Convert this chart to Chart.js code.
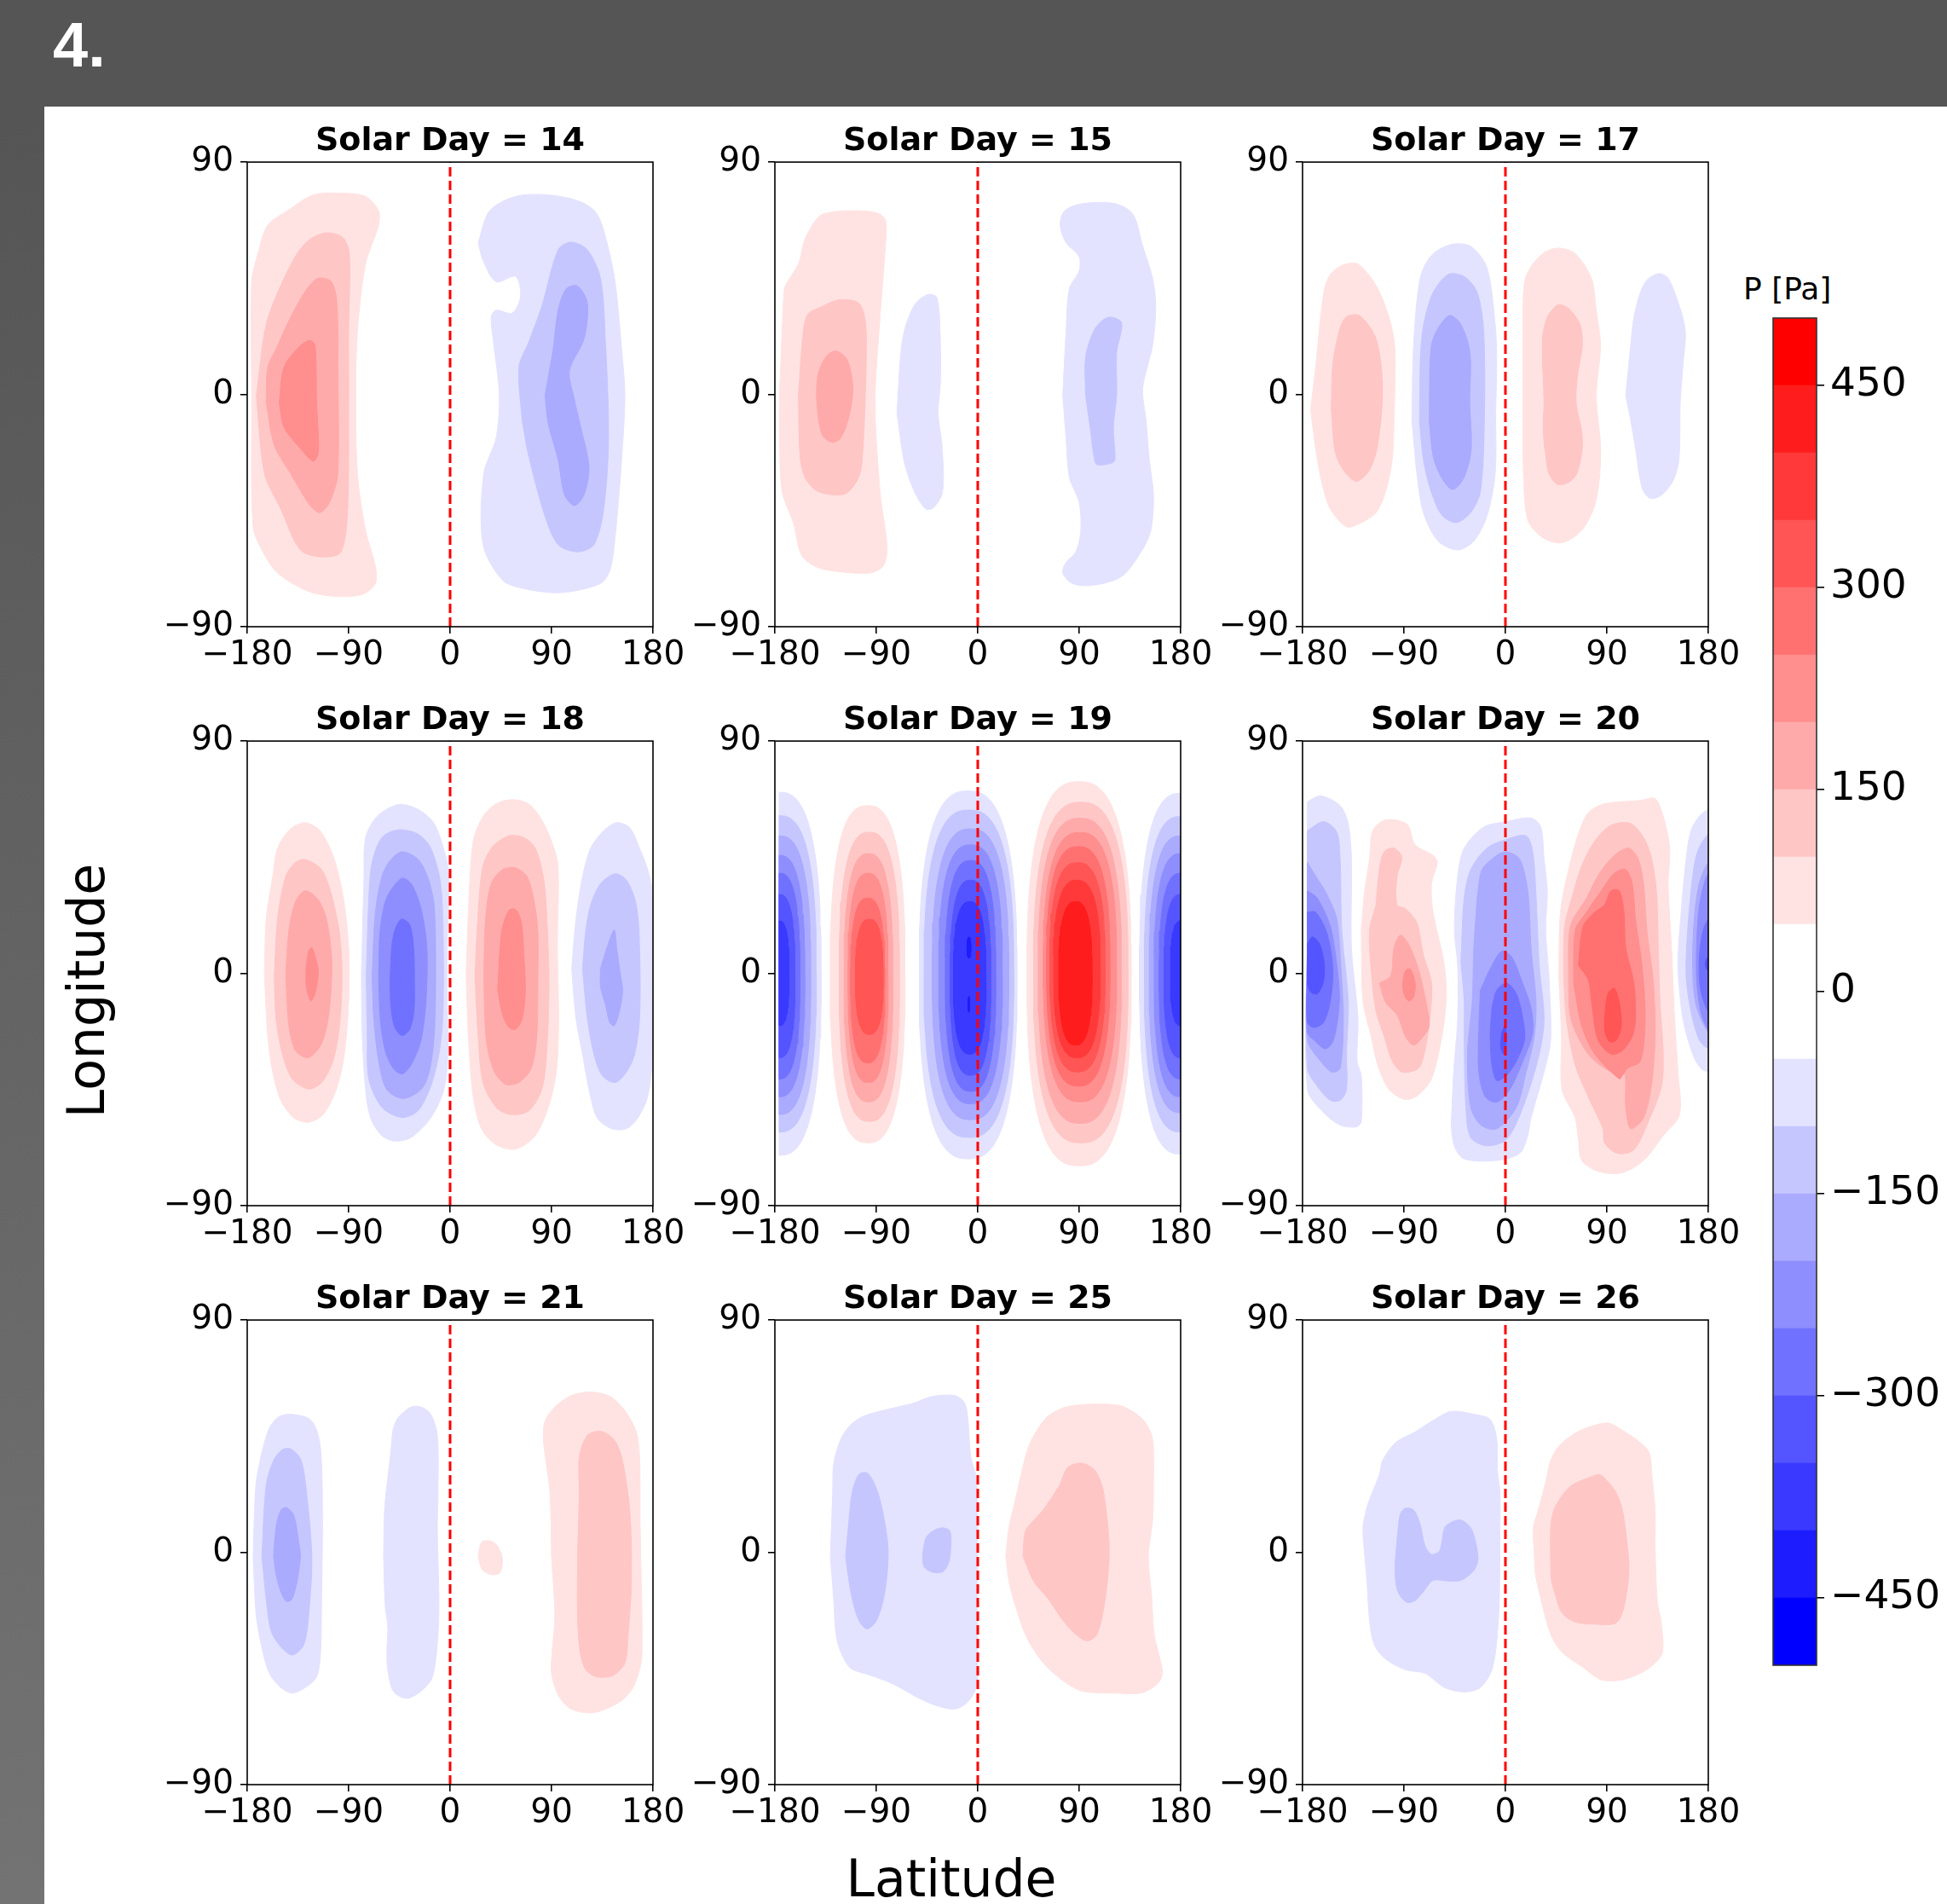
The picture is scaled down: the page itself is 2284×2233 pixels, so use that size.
<!DOCTYPE html>
<html>
<head>
<meta charset="utf-8">
<script src="https://cdn.jsdelivr.net/npm/chart.js@4.4.1/dist/chart.umd.min.js"></script>
<style>
  body { margin: 0; width: 2284px; height: 2233px; background: #fff; position: relative; overflow: hidden; font-family: 'DejaVu Sans'; }
  #header { position: absolute; left: 0; top: 0; width: 2284px; height: 125px; background: #555555; }
  #header span { position: absolute; left: 62px; top: 16px; color: #fff; font: bold 74px/74px 'Liberation Sans'; }
  #strip { position: absolute; left: 0; top: 125px; width: 52px; height: 2108px; background: linear-gradient(#555555, #737373); }
  .lbl { position: absolute; color: #000; font: 60px/60px 'DejaVu Sans'; white-space: nowrap; }
  #cbtitle { position: absolute; left: 2045px; top: 318px; font: 36px/42px 'DejaVu Sans'; color: #000; white-space: nowrap; }
  canvas { position: absolute; }
</style>
</head>
<body>
<div id="header"><span>4.</span></div>
<div id="strip"></div>
<div class="lbl" id="ylab" style="left:101px;top:1162px;transform:translate(-50%,-50%) rotate(-90deg);">Longitude</div>
<div class="lbl" id="xlab" style="left:1116px;top:2173px;transform:translateX(-50%);">Latitude</div>
<div id="cbtitle">P [Pa]</div>
<script>
// axis ticks
const latTicks = [-180, -90, 0, 90, 180];
const lonTicks = [-90, 0, 90];
const solarDays = [14, 15, 17, 18, 19, 20, 21, 25, 26];
const cbarLevels = [-500, -450, -400, -350, -300, -250, -200, -150, -100, -50, 0, 50, 100, 150, 200, 250, 300, 350, 400, 450, 500];
const cbarTicks = [-450, -300, -150, 0, 150, 300, 450];
const latCoverage = [-176, 180];

// contour regions: [band, [[lat, lon], ...]]
// band = number of 50 Pa steps (positive red, negative blue)
const day14 = [
  [1, [[-176,0],[-176,44],[-170.5,54.6],[-161.8,65.6],[-144.4,71.1],[-121.3,77.3],[-98.1,78],[-75,76.7],[-63.4,71.1],[-63.4,65.6],[-75,50.5],[-82.2,24.4],[-83.6,0],[-82.2,-30.7],[-75,-52.7],[-66.3,-66.5],[-66.3,-73.3],[-77.9,-77.5],[-103.9,-78.2],[-127,-76.1],[-153.1,-69.2],[-166.1,-61],[-174.8,-51.3]]],
  [2, [[-171.9,-0.4],[-163.2,27.1],[-150.2,42.2],[-135.7,54.6],[-124.2,60.1],[-109.7,62.6],[-95.2,60.8],[-89.4,54.6],[-90,24.4],[-90,-3.2],[-90.9,-44.4],[-96.7,-61],[-112.6,-63],[-132.8,-60.3],[-150.2,-44.4],[-164.7,-30.7]]],
  [3, [[-163.2,-3.2],[-161.8,10.6],[-154.5,17.5],[-141.5,29.9],[-127,40.9],[-116.9,45],[-105.3,43.6],[-100.4,35.4],[-99.6,10.6],[-99.6,-30.7],[-106.8,-41.7],[-115.5,-45.8],[-124.2,-43.1],[-141.5,-30.7],[-156,-19.7]]],
  [4, [[-151.6,-3.2],[-147.3,10.6],[-132.8,18.9],[-124.2,20.9],[-119.8,18.9],[-118.4,-3.2],[-116.9,-22.4],[-121.3,-25.9],[-132.8,-21],[-147.3,-12.8]]],
  [-1, [[24.9,58.8],[35,71.1],[58.1,76.7],[87.1,77.3],[116,74.6],[130.5,69.8],[139.2,58.8],[146.4,43.6],[152.2,17.5],[155.1,-0.4],[152.2,-25.2],[146.4,-55.5],[142.1,-67.8],[133.4,-73.3],[98.6,-76.8],[66.8,-75.4],[46.6,-72],[29.2,-58.2],[29.8,-30.7],[40.8,-16.9],[43.7,-0.4],[39.3,17.5],[36.4,29.9],[40.8,32.6],[55.2,31.5],[62.5,38.1],[58.1,45.7],[40.8,43.6],[29.2,51.9]]],
  [-2, [[63.9,-10],[61,10.6],[69.7,20.2],[81.3,34],[95.8,56],[107.3,59],[121.8,56],[133.4,45],[137.7,21.6],[140.6,-16.9],[136.3,-44.4],[127.6,-58.2],[113.1,-61],[95.8,-58.2],[84.2,-47.2],[69.7,-23.8]]],
  [-3, [[84.2,-0.4],[91.4,17.5],[95.8,32.6],[103,40.9],[113.1,42],[121.8,35.4],[118.9,21.6],[105.9,9.2],[110.2,-1.8],[116,-12.8],[123.2,-27.9],[118.9,-38.9],[110.2,-43.1],[101.5,-38.9],[95.8,-25.2],[87.1,-11.4]]]
];

const day15 = [
  [1, [[-175.9,-0.4],[-172.2,38.1],[-170.7,42.2],[-159.1,50.5],[-153.4,60.1],[-140.3,69.1],[-124.4,70.9],[-101.2,71.1],[-86.7,69.8],[-81.5,67],[-82.4,54.6],[-86.7,29.9],[-91.1,-3.2],[-86.7,-37.6],[-80.4,-59.6],[-83.9,-66.5],[-95.4,-69.2],[-118.6,-68.9],[-141.8,-67.1],[-156.3,-62.3],[-163.5,-49.9],[-173.6,-37.6],[-175.9,-17]]],
  [2, [[-159.1,-0.4],[-154.8,24.4],[-150.5,31.2],[-138.9,33.9],[-122.9,36.7],[-105.6,35.4],[-99.8,28.5],[-98.9,13.4],[-102.7,-26.6],[-107.2,-33.5],[-118.6,-38.7],[-141.8,-37.6],[-153.4,-32.1],[-157.7,-23.8]]],
  [3, [[-143.2,-0.4],[-141.8,7.8],[-134.5,14.7],[-125.8,16.8],[-115.7,13.4],[-110.8,2.4],[-114.3,-8.7],[-121.5,-16.9],[-128.7,-18.6],[-137.4,-16.2],[-141.2,-10]]],
  [-1, [[-71.7,-7.3],[-68,17.5],[-63.6,27.1],[-54.9,35.4],[-43.3,38.8],[-36.1,37.4],[-33.2,21.6],[-33.2,3.7],[-35.2,-7.3],[-31.7,-19.7],[-31.1,-37.6],[-39,-43.8],[-46.2,-44.4],[-56.3,-37.6],[-65,-26.6]]],
  [-1, [[75.4,-0.4],[78.3,24.4],[81.2,40.9],[89.9,47.8],[89.9,53.3],[78.3,58.8],[73.1,65.6],[76.9,71.1],[92.8,73.9],[121.8,73.9],[137.7,69.8],[146.4,57.4],[155.1,45],[158,34],[155.1,18.9],[146.4,2.4],[149.3,-10],[152.2,-25.2],[155.9,-39],[153.6,-52.7],[144.9,-61],[127.6,-70.6],[101.5,-74],[84.1,-73.3],[75.4,-69.2],[78.3,-65.1],[87,-61],[91.4,-52.7],[89.9,-41.7],[81.2,-32.1],[78.3,-16.9]]],
  [-2, [[95.7,-0.4],[95.7,14.7],[104.4,25.7],[116,29.9],[127.6,27.8],[123.2,16.2],[123.2,-0.4],[120.3,-12.8],[121.8,-25.2],[118.9,-26.6],[105.8,-27.2],[103,-23.8],[100.1,-14.1]]]
];

const day17 = [
  [1, [[-172.8,-5.9],[-168.4,10.6],[-161.2,39.5],[-155.4,46.4],[-143.8,50.2],[-130.8,50.5],[-114.8,42.2],[-103.3,29.9],[-98,17.5],[-98.9,-10],[-100.4,-25.2],[-106.2,-37.6],[-114.8,-45.8],[-129.3,-50],[-140.9,-51.3],[-155.4,-44.4],[-162.6,-34.8],[-168.4,-21]]],
  [2, [[-154.5,-5.9],[-153.1,12],[-146.7,25.7],[-140.9,30.1],[-129.3,30.5],[-114.8,21.6],[-109,2.3],[-113.4,-19.7],[-120.6,-29.3],[-132.2,-33.7],[-143.8,-29.3],[-151,-22.4]]],
  [-1, [[-83,-10],[-81.5,18.9],[-75.7,45],[-65.6,53.9],[-48.2,58.1],[-30.9,57.4],[-16.4,49.1],[-9.1,27.1],[-7.7,13.4],[-8.6,-7.3],[-9.1,-30.7],[-16.4,-47.2],[-28,-56.8],[-42.4,-60.3],[-59.8,-56.8],[-72.8,-45.8],[-78.6,-30.7]]],
  [-2, [[-76.3,-10],[-74.3,21.6],[-65.6,38.1],[-51.1,46.4],[-36.7,45.7],[-25.1,39.5],[-19.3,24.4],[-18.7,-10],[-22.2,-37.6],[-30.9,-45.8],[-43.9,-49.7],[-56.9,-46.5],[-67,-36.2],[-72.8,-25.2]]],
  [-3, [[-67.6,-10],[-66.2,17.5],[-61.3,24.4],[-49.7,30.6],[-39.5,27.1],[-31.4,16.1],[-31.7,-3.2],[-30.3,-21],[-36.6,-32.1],[-46.8,-36.9],[-56.9,-32.1],[-64.2,-23.8]]],
  [1, [[15.5,-10],[15.5,21.6],[16.9,43.6],[24.2,50.5],[35.8,55.3],[47.3,56.7],[61.8,54.6],[76.3,45],[80.6,32.6],[84.4,18.9],[80.6,-0.4],[84.4,-19.7],[83.5,-32.1],[79.2,-43.1],[67.6,-52.7],[50.2,-57.5],[32.9,-55.5],[19.8,-48.6],[16,-30.7]]],
  [2, [[34.3,-3.2],[32.9,21.6],[37.2,29.9],[46.8,34.7],[56,33.3],[66.2,27.1],[68.2,18.9],[64.1,7.8],[62.7,-3.2],[67.6,-14.1],[68.2,-21],[63.3,-30.7],[56,-34.1],[45.9,-34.8],[38.6,-30.7],[35.8,-23.8],[33.5,-14.1]]],
  [-1, [[106.7,-0.4],[111.1,18.9],[114,29.9],[119.7,39.5],[125.5,44.3],[135.7,46.8],[144.4,45],[154.5,34],[159.7,24.4],[157.4,10.6],[155.1,-3.2],[154,-25.2],[148.7,-33.5],[138.6,-39],[128.4,-40.3],[121.2,-36.2],[115.4,-21],[111.1,-10]]]
];

const day18 = [
  [1, [[-164.7,-1],[-163.2,21],[-157.4,37.5],[-153.1,48.5],[-141.5,56],[-128.5,58.4],[-115.5,55.3],[-103.9,45.7],[-95.2,30.6],[-90,10],[-90,-10.7],[-93.8,-31.3],[-101,-45],[-112.6,-54.7],[-125.6,-57.7],[-138.6,-56],[-150.2,-49.2],[-157.4,-38.2],[-161.8,-24.4]]],
  [2, [[-156,-1],[-153.1,21],[-145.9,37.5],[-137.2,43],[-128.5,44.1],[-114,40.2],[-105.3,30.6],[-98.1,15.5],[-95.8,-1],[-98.1,-20.3],[-103.9,-34],[-114,-42.3],[-125.6,-44.8],[-140.1,-40.9],[-148.8,-31.3],[-154.5,-17.5]]],
  [3, [[-145.9,-1],[-143,16.8],[-137.2,27.8],[-128.5,32],[-116.9,28.5],[-109.7,21],[-105.3,7.2],[-105.3,-3.8],[-108.2,-17.5],[-114,-27.2],[-125.6,-32.7],[-137.2,-29.9],[-143,-20.3]]],
  [4, [[-127.9,1.7],[-125.6,8.6],[-122.7,10],[-118.4,4.4],[-116.9,0.3],[-119.8,-7.9],[-123.6,-10.7],[-127.6,-5.2]]],
  [-1, [[-78.7,-1],[-76.4,37.5],[-75,52.6],[-64.8,60.8],[-46,65.4],[-28.7,63.6],[-14.2,58.1],[-4.1,45.7],[-1.2,37.5],[-2.5,10],[-2.5,-10.7],[-2,-31.3],[-5.5,-45],[-17.1,-56],[-34.5,-63.6],[-48.9,-65],[-60.5,-62.9],[-70.6,-56],[-75,-45],[-77.9,-24.4]]],
  [-2, [[-74.4,-1],[-72.1,29.2],[-69.2,43],[-60.5,52.6],[-46,55.6],[-28.7,54],[-17.1,48.5],[-8.4,34.7],[-6,10],[-6.5,-17.5],[-9.9,-31.3],[-17.1,-43.7],[-28.7,-53.3],[-43.1,-55.8],[-60.5,-51.9],[-72.1,-40.9],[-73.5,-24.4]]],
  [-3, [[-69.2,-1],[-66.3,23.7],[-60.5,37.5],[-53.3,43.7],[-42.6,47.1],[-28.7,44.3],[-20,37.5],[-14.2,26.5],[-12.8,-1],[-14.2,-24.4],[-18.5,-38.2],[-25.8,-45],[-41.7,-48.5],[-56.2,-45],[-63.4,-34],[-67.7,-17.5]]],
  [-4, [[-63.4,-1],[-62,16.8],[-56.2,29.2],[-43.1,36.8],[-34.5,34.7],[-25.8,25.1],[-20.6,10],[-21.4,-10.7],[-25.8,-25.8],[-34.5,-35.4],[-42.6,-38.9],[-50.4,-36.8],[-57.6,-29.9],[-62,-17.5]]],
  [-5, [[-53.3,-3.8],[-51.8,10],[-49,16.8],[-43.1,21],[-35.9,18.9],[-32.4,10],[-31.6,-3.8],[-32.1,-14.8],[-35.9,-21.7],[-42.6,-24.1],[-49,-21],[-52.4,-13.4]]],
  [1, [[14.2,-1],[16.2,23.7],[20.5,51.2],[29.2,60.8],[40.8,65.7],[55.2,67.3],[69.7,65.7],[81.3,59.5],[90,51.2],[95.8,41.6],[95.2,10],[96.3,-17.5],[94.3,-38.2],[87.1,-51.9],[75.5,-62.9],[58.1,-68.1],[40.8,-66.4],[27.8,-60.2],[20.5,-47.8],[16.2,-24.4]]],
  [2, [[22,-1],[24.9,23.7],[29.2,41.6],[37.9,49.2],[52.3,53.3],[65.4,52.6],[75.5,48.5],[82.7,37.5],[85.6,23.7],[87.7,-3.8],[85.6,-31.3],[81.3,-45],[69.7,-53.3],[53.8,-54.7],[40.8,-51.9],[29.2,-42.3],[24.9,-24.4]]],
  [3, [[29.8,-1],[31.5,21],[36.4,34.7],[46.6,40.2],[58.1,40.9],[68.3,37.5],[74,29.2],[77.8,16.8],[77.8,-3.8],[76.9,-24.4],[72,-36.8],[61,-42.3],[49.5,-43],[39.3,-38.2],[32.1,-25.8]]],
  [4, [[42.2,-6.5],[44.3,10],[46.6,18.2],[52.3,24.4],[58.1,24.8],[63.3,19.6],[65.4,7.2],[66.8,-6.5],[64,-17.5],[58.1,-21.7],[52.3,-21],[46.6,-16.2]]],
  [-1, [[107.9,1.7],[111.7,21],[117.5,37.5],[124.7,48.5],[136.3,55.3],[147.8,58.4],[159.4,56.4],[168.1,48.5],[175.3,40.2],[179.1,32],[179.1,-34],[175.3,-47.8],[166.6,-56],[156.5,-60.2],[143.5,-60.2],[130.5,-56],[123.2,-45],[117.5,-31.3],[111.7,-17.5]]],
  [-2, [[117.5,1.7],[120.4,16.8],[124.7,26.5],[133.4,34.7],[146.4,38.6],[156.5,36.1],[165.2,26.5],[168.1,10],[168.1,-17.5],[163.8,-31.3],[156.5,-38.2],[146.4,-42.3],[134.8,-39.5],[127.6,-31.3],[121.8,-17.5]]],
  [-3, [[133.4,1.7],[139.2,10],[145.6,16.8],[147.8,10],[151.3,-1],[153.1,-6.5],[150.2,-14.8],[145.6,-20.3],[141.6,-19],[137.8,-12],[133.4,-5.2]]]
];

// day 19 contours are near-elliptic: [band, latMin, latMax, lonTop, lonBottom]
const day19Boxes = [
  [-1, -213.1, -138.9, 70.2, -70.5], [-2, -208.8, -143.2, 61.1, -61.5], [-3, -203.9, -148.1, 53.3, -54.7],
  [-4, -198.6, -153.4, 45.7, -47.8], [-5, -194.3, -157.7, 38.8, -40.9], [-6, -190, -162, 30.6, -32.7], [-7, -184.7, -167.3, 20.3, -20.3],
  [1, -130.8, -64.4, 65, -65.7], [2, -123, -69.4, 54.7, -57.4], [3, -118.6, -75.2, 46.4, -49.8],
  [4, -115.1, -79.5, 38.8, -42.3], [5, -112.8, -82.4, 29.2, -34.7], [6, -108.5, -83.9, 21, -23.7],
  [-1, -52, 34.9, 70.7, -71.9], [-2, -47.6, 32, 63.3, -63.6], [-3, -40.4, 27.6, 56, -56.7], [-4, -34.6, 21.9, 49.8, -50.5],
  [-5, -28.8, 16.1, 43.7, -45.7], [-6, -24.5, 11.7, 36.1, -39.5], [-7, -21.6, 7.4, 27.8, -31.3],
  [-8, -9.5, -6, 14, 6], [-8, -8.5, -7, -9, -15],
  [1, 43.6, 136.2, 74.3, -74.6], [2, 49.4, 133.4, 66.3, -65.7], [3, 53.7, 127.6, 60.1, -58.1], [4, 58.1, 123.2, 54.6, -49.8],
  [5, 61, 117.4, 49.1, -43.7], [6, 63.9, 113.1, 42.9, -38.2], [7, 67.3, 108.7, 36.1, -32.7], [8, 72, 101.5, 27.8, -27.8],
  [-1, 143.5, 216.5, 69.8, -70.1], [-2, 147.8, 212.2, 60.8, -61.5], [-3, 152.2, 207.8, 53.3, -54], [-4, 156.5, 203.5, 46.4, -47.8],
  [-5, 160.9, 199.1, 38.8, -40.9], [-6, 165.2, 194.8, 30.6, -32.7], [-7, 171, 189, 20.3, -20.3]
];

const day20 = [
  [-1, [[-175.7,66.5],[-164.1,68.8],[-146.7,65],[-139.5,58.1],[-136.6,44.3],[-136.6,10],[-130.8,-17.5],[-131.6,-34],[-127.9,-39.5],[-127.9,-57.4],[-132.2,-59.5],[-146.7,-58.8],[-161.2,-54],[-175.7,-45],[-175.7,10]]],
  [-2, [[-175.7,55.3],[-161.2,58.8],[-149.6,54.7],[-146.7,44.3],[-145.2,16.8],[-139.5,-10.7],[-141,-31.3],[-141,-45],[-146.7,-49.2],[-155.4,-49.2],[-167,-43.7],[-175.7,-36.8],[-175.7,9]]],
  [-3, [[-175.7,43],[-167,36.8],[-158.3,30.6],[-149.6,21],[-146.1,3.1],[-143.8,-17.5],[-146.7,-36.8],[-153.9,-38.2],[-164.1,-34],[-175.7,-25.8],[-175.7,8]]],
  [-4, [[-175.7,32],[-167,29.2],[-155.4,18.2],[-149.6,3.1],[-147.3,-10.7],[-152.5,-25.8],[-159.7,-29.2],[-169.9,-25.8],[-175.7,-23],[-175.7,4]]],
  [-5, [[-175.7,23.7],[-168.4,23.7],[-158.3,15.5],[-153.1,1.7],[-155.4,-10.7],[-161.2,-18.9],[-169.9,-21],[-175.7,-18.9],[-175.7,2]]],
  [-6, [[-175.7,11.3],[-171.3,14.1],[-164.7,11.3],[-160.6,3.1],[-161.8,-3.8],[-167,-7.9],[-172.8,-7.2],[-175.7,-3.8]]],
  [1, [[-127.9,16.8],[-124.9,32],[-120.6,44.3],[-117.7,55.3],[-106.2,59.5],[-87.3,57.8],[-80.1,49.8],[-64.2,45.7],[-60.4,43],[-65.6,34.7],[-64.2,23.7],[-54.1,3.1],[-52.6,-10.7],[-56.9,-25.8],[-65.6,-40.9],[-77.2,-47.1],[-88.8,-48.9],[-103.3,-45],[-113.4,-35.4],[-119.2,-24.4],[-126.4,-10.7]]],
  [2, [[-114.8,26.5],[-111.9,40.2],[-107.6,47.1],[-98.9,48.5],[-91.9,45],[-96.2,37.5],[-96.2,26.5],[-88.8,25.1],[-78.6,19.6],[-72.8,7.2],[-65.6,-3.8],[-67,-17.5],[-71.4,-29.9],[-77.2,-36.8],[-91.7,-38.2],[-100.4,-34],[-107.6,-24.4],[-114.8,-14.8],[-119.2,1.7],[-120.6,16.8]]],
  [3, [[-111.9,-3.8],[-101.8,-1],[-98.9,10],[-93.1,14.8],[-85.9,11.3],[-77.2,1.7],[-70,-12],[-67.6,-20.3],[-72.8,-24.4],[-81.5,-27.8],[-88.8,-24.4],[-96,-16.2],[-106.2,-11.3]]],
  [4, [[-91.1,-3.8],[-88.8,1],[-84.4,1.7],[-80.1,-3.8],[-81.5,-9.3],[-85.9,-10.7],[-90.2,-7.9]]],
  [-1, [[-48.2,-58.8],[-45.9,-38.2],[-42.4,-17.5],[-42.4,3.1],[-45.3,16.8],[-42.4,37.5],[-36.6,48.5],[-19.3,56.7],[1,58.8],[22.7,60.2],[31.4,56.7],[34.3,44.3],[37.2,32],[35.7,16.8],[38.6,-1],[40.1,-25.8],[34.3,-38.2],[22.7,-56],[19.8,-62.9],[12.6,-69.8],[-7.7,-72.5],[-36.6,-71.9],[-45.3,-67]]],
  [-2, [[-39.5,4.4],[-36.6,29.2],[-30.8,40.2],[-16.4,48.5],[1,51.9],[18.4,53.3],[24.2,47.1],[27.1,30.6],[30,3.1],[34.3,-17.5],[30,-31.3],[15.5,-51.9],[1,-64.3],[-16.4,-66.8],[-30.8,-63.6],[-35.1,-51.9],[-36.6,-25.8],[-36.6,-10.7]]],
  [-3, [[-25.1,29.2],[-20.7,40.2],[-7.7,45.7],[1,47.1],[12.6,44.3],[19.8,32],[22.7,10],[27.1,-10.7],[25.6,-24.4],[18.4,-38.2],[9.7,-51.9],[-7.7,-60.2],[-21.7,-58.8],[-30.8,-51.9],[-33.7,-31.3],[-29.4,-10.7],[-28,10]]],
  [-4, [[-22.2,-6.5],[-13.5,1.7],[-3.3,8.6],[5.3,6.5],[14,-2.4],[22.7,-13.4],[24.2,-23],[15.5,-34],[3.9,-45],[-7.7,-49.9],[-17.8,-47.8],[-23.6,-38.2],[-23.6,-21.7]]],
  [-5, [[-12,-13.4],[-7.7,-6.5],[1,-3.8],[9.7,-7.9],[15.5,-17.5],[16.9,-25.8],[9.7,-34],[1,-39.5],[-7.7,-41.5],[-12,-35.4],[-13.5,-24.4]]],
  [-6, [[-3.3,-23],[-0.4,-20.3],[1,-25.8],[-1.3,-31.3],[-4.2,-28.5]]],
  [1, [[47.3,-1],[48.8,23.7],[56,40.2],[64.7,54],[73.4,62.2],[87.9,65.7],[119.7,67],[132.8,67.7],[140,60.8],[145.8,48.5],[144.4,34.7],[147.3,10],[150.1,-17.5],[153.1,-38.2],[154.5,-54.7],[140,-62.9],[122.6,-72.5],[102.4,-77.4],[82.1,-76.7],[67.6,-72.5],[64.7,-64.3],[61.8,-56],[50.2,-45],[49.7,-24.4]]],
  [2, [[51.7,-1],[52.5,18.2],[58.9,29.2],[67.6,41.6],[79.2,51.2],[93.6,57.4],[111,58.1],[122.6,52.6],[129.8,44.3],[134.2,30.6],[135.6,10],[137.1,-10.7],[140,-31.3],[138.5,-43.7],[126.9,-57.4],[113.9,-68.4],[99.5,-69.8],[87.9,-65.7],[86.5,-60.2],[73.4,-47.8],[61.8,-35.4],[54,-17.5]]],
  [3, [[56,-1],[57.5,18.2],[71.9,29.2],[83.5,38.8],[96.6,45.7],[109.5,48.5],[117.8,44.3],[122.6,34.7],[125.5,16.8],[131.3,-3.8],[132.8,-24.4],[129.9,-42.3],[122.6,-56],[111,-60.2],[106.7,-51.9],[105.2,-38.2],[93.7,-38.2],[73.4,-31.3],[58,-17.5]]],
  [4, [[60.5,-3.8],[62,16.8],[71.9,23.7],[85,32],[96.6,38.8],[106.7,40.2],[112.5,34.7],[115.4,21],[121.1,3.1],[124,-17.5],[119.7,-34],[108.2,-36.8],[103.9,-39.5],[101,-40.9],[79.3,-31.3],[67.6,-20.3]]],
  [5, [[64.7,3.1],[69,18.2],[79.2,23.7],[87.9,26.5],[93.6,32],[101,32],[105.2,23.7],[106.7,10],[114,-3.8],[115.4,-17.5],[112.5,-24.4],[103.9,-29.9],[93.7,-31.3],[82.1,-25.8],[76.3,-10.7],[73.4,-2.4]]],
  [6, [[87.9,-17.5],[90.8,-7.9],[96.6,-5.8],[101.3,-12],[102.8,-20.3],[98.5,-25.8],[92.7,-26.5],[88.4,-23]]],
  [-1, [[186,63.6],[180,63.6],[171.9,60.8],[164.6,55.3],[160.3,44.3],[155.9,23.7],[153.1,3.1],[157.4,-17.5],[166.1,-31.3],[173.3,-36.8],[180,-38.2],[186,-38.2]]],
  [-2, [[186,54],[180,54],[170.4,47.1],[166.1,37.5],[161.7,16.8],[160.3,-1],[164.6,-14.8],[171.9,-25.8],[180,-29.2],[186,-29.2]]],
  [-3, [[186,43],[180,43],[171.9,34.7],[167.5,21],[166.1,1.7],[169,-12],[180,-23],[186,-23]]],
  [-4, [[186,38.8],[180,38.8],[173.3,29.2],[170.4,18.2],[169.5,-1],[173.3,-14.8],[180,-21.7],[186,-21.7]]],
  [-5, [[186,21],[180,21],[174.8,15.5],[171.9,4.4],[173.3,-6.5],[180,-14.8],[186,-14.8]]],
  [-6, [[186,6.5],[180,6.5],[177.2,3.5],[180,1],[186,1]]]
];

const day21 = [
  [-1, [[-174.8,-1.5],[-172.8,23.3],[-170.5,31.5],[-161.8,46.7],[-153.1,52.2],[-141.5,53.5],[-124.2,51.5],[-116.9,45.3],[-114,34.3],[-113.2,9.5],[-114,-18],[-114.9,-38.7],[-118.4,-48.3],[-128.5,-52.4],[-140.1,-54.5],[-150.2,-52.4],[-160.3,-46.9],[-166.1,-38.7],[-171.9,-24.9]]],
  [-2, [[-167,-1.5],[-163.2,26],[-156.6,35.6],[-148.8,39.8],[-141.5,40.1],[-132.8,36.3],[-128.5,27.4],[-122.7,-1.5],[-125.6,-24.9],[-129.9,-35.9],[-140.1,-39.8],[-150.2,-36.6],[-158.9,-30.4],[-163.2,-18]]],
  [-3, [[-156.6,-1.5],[-154.5,9.5],[-150.2,16.4],[-145,17.3],[-138.6,14.3],[-134.3,4],[-132.8,-1.5],[-135.7,-11.1],[-140.1,-18],[-145,-19.1],[-150.2,-15.3],[-154.5,-8.4]]],
  [-1, [[-59,-1.5],[-58.2,16.4],[-55.3,28.8],[-52.4,39.8],[-50.4,48],[-46,52.2],[-34.5,56.3],[-25.8,56.3],[-17.1,53.5],[-11.3,45.3],[-10.7,23.3],[-11.3,9.5],[-9.9,-18],[-10.7,-31.8],[-15.6,-48.3],[-25.8,-53.8],[-38.8,-56.6],[-50.4,-53.8],[-55.3,-45.5],[-56.1,-38.7],[-55.3,-29],[-57.6,-20.8]]],
  [1, [[24.9,-1],[28,4],[35.7,4.4],[42,2.5],[46.5,-2.5],[44,-8],[36.5,-8.6],[28,-6.5]]],
  [1, [[90,-1.5],[88.5,23.3],[82.7,43.9],[84.2,50.8],[92.9,56.3],[107.3,60.7],[124.7,62.1],[142,60.4],[155.1,54.9],[165.2,46.7],[168.1,37],[168.7,9.5],[170.4,-31.8],[169.5,-42.8],[162.3,-52.4],[150.7,-57.9],[127.6,-62.1],[107.3,-60.7],[95.8,-55.2],[90,-46.9],[90.5,-38.7],[92.9,-24.9]]],
  [2, [[113.1,-1.5],[114.6,23.3],[114.6,37],[121.8,45.3],[133.4,46.9],[145,43.9],[152.2,37],[159.4,16.4],[160.9,-11.1],[158,-31.8],[155.1,-42.8],[145,-47.6],[130.5,-48.3],[120.3,-45.5],[115.4,-38.7],[113.1,-24.9]]]
];

const day25 = [
  [-1, [[-130.8,-1.5],[-128.7,23.3],[-127.9,34.3],[-121.5,43.9],[-112.8,49.4],[-101.2,52.8],[-78.1,55.6],[-57.8,57.7],[-40.4,60.4],[-20.1,60.7],[-11.4,57.7],[-8.6,50.8],[-6.2,37],[-1.3,28.8],[-0.4,9.5],[-0.4,-45.5],[-1.3,-52.4],[-8.6,-57.9],[-20.1,-60.7],[-37.5,-59.3],[-54.9,-55.9],[-75.2,-51],[-95.4,-47.6],[-112.8,-44.9],[-121.5,-38.7],[-125.8,-31.8],[-127.9,-18]]],
  [-2, [[-117.2,-1.5],[-114.3,12.3],[-111.4,23.3],[-105.6,30.1],[-98.3,30.8],[-91.1,26],[-85.3,17.8],[-79.5,1.2],[-82.4,-15.3],[-89.6,-26.3],[-98.3,-29.7],[-105.6,-26.3],[-111.4,-18],[-115.2,-8.4]]],
  [-2, [[-49.1,-1.5],[-46.2,5.4],[-40.4,8.1],[-31.7,9.5],[-24.5,8.1],[-24.5,-1.5],[-27.4,-5.6],[-31.7,-7.7],[-40.4,-7.7],[-47.6,-5.6]]],
  [1, [[24.8,-1.5],[27.6,9.5],[33.4,20.5],[40.7,34.3],[46.5,42.5],[60.9,52.2],[78.3,56.3],[101.5,57.4],[124.7,57],[136.2,54.9],[147.8,50.8],[155.1,43.9],[155.9,26],[155.1,12.3],[151.3,-1.5],[154.2,-16.6],[156.5,-31.8],[160.9,-40],[163.8,-46.9],[159.4,-51],[144.9,-54.5],[118.9,-54.5],[92.8,-53.8],[75.4,-49.7],[58,-42.8],[43.6,-33.2],[33.4,-20.8],[27.6,-11.1]]],
  [2, [[40.1,-1.5],[42.1,8.1],[49.4,12.3],[58,16.4],[72.5,26],[79.8,32.9],[92.8,34.5],[104.4,31.5],[111.6,23.3],[116.6,1.2],[113.1,-18],[105.8,-31.8],[97.1,-34.3],[87,-31.8],[75.4,-26.3],[62.4,-18],[49.4,-11.1]]]
];

const day26 = [
  [-1, [[-124.9,-1.5],[-126.4,9.5],[-123.5,16.4],[-120.6,20.5],[-111.9,30.1],[-109,35.6],[-97.5,42.5],[-80.1,46.7],[-62.7,51.5],[-48.2,54.6],[-27.9,53.5],[-13.5,51.5],[-7.7,43.9],[-7.1,31.5],[-4.8,23.3],[-4.8,9.5],[-5.4,-18],[-7.7,-34.5],[-12,-45.5],[-22.2,-52.4],[-36.6,-54.1],[-54,-52.4],[-71.4,-46.9],[-88.8,-45.5],[-106.2,-41.4],[-116.3,-35.9],[-120.6,-26.3],[-122.9,-11.1]]],
  [-2, [[-98,-4.3],[-95.1,9.5],[-93.1,15],[-88.8,17.1],[-81.5,16.4],[-75.7,10.9],[-71.4,2.6],[-65.6,-0.8],[-58.4,0.6],[-54,9.5],[-48.2,11.6],[-39.5,12.5],[-30.8,9.5],[-26.4,4],[-24.4,-2.9],[-27.9,-7],[-39.5,-10.9],[-51.1,-11.1],[-64.2,-10.9],[-72.9,-15.3],[-80.1,-18.7],[-87.3,-19.4],[-94.6,-16],[-97.5,-11.1]]],
  [1, [[25.6,-1.5],[24.8,9.5],[30,17.8],[35.8,27.4],[40.1,35.6],[47.3,41.1],[58.9,45.3],[70.5,48],[90.8,50.1],[103.8,47.3],[119.7,42.5],[127.8,38.4],[129.9,30.1],[132.8,16.4],[132.8,2.6],[134.8,-19.4],[138,-26.3],[139.4,-38.7],[131.3,-43.5],[119.7,-46.9],[103.8,-49.4],[85,-49.4],[67.6,-44.2],[50.2,-38.7],[40.1,-31.8],[31.4,-18],[26.5,-8.4]]],
  [2, [[40.1,-4.3],[40.1,9.5],[43,16.4],[50.2,21.9],[58.9,26],[73.4,28.8],[83.5,30.1],[90.8,27.4],[98,23.3],[103.8,16.4],[108.1,2.6],[109.6,-7],[106.7,-18],[102.4,-24.9],[96.6,-27.7],[82.1,-27.9],[61.8,-27],[50.2,-23.5],[44.4,-16.6],[40.9,-11.1]]]
];

// ---------- drawing ----------
Chart.defaults.font.family = 'DejaVu Sans';
Chart.defaults.color = '#000';

function bandColor(band) {
  const g = Math.round(255 * (9 - Math.abs(band)) / 9);
  return band > 0 ? `rgb(255,${g},${g})` : `rgb(${g},${g},255)`;
}

// outline of a near-elliptic contour (rounded box through its extents)
function boxOutline([band, x0, x1, y1, y0]) {
  const cx = (x0 + x1) / 2, cy = (y0 + y1) / 2, a = (x1 - x0) / 2, b = (y1 - y0) / 2;
  const pts = [];
  for (let i = 0; i < 72; i++) {
    const t = i / 72 * 2 * Math.PI, c = Math.cos(t), s = Math.sin(t);
    const x = cx + a * Math.sign(c) * Math.pow(Math.abs(c), 2 / 2.6);
    const y = cy + b * Math.sign(s) * Math.pow(Math.abs(s), 2 / 2.6);
    pts.push([Math.min(Math.max(x, latCoverage[0]), latCoverage[1]), y]);
  }
  return [band, pts, 0];
}

const contourSets = [day14, day15, day17, day18, day19Boxes.map(boxOutline), day20, day21, day25, day26];

const fmt = v => String(v).replace('-', '\u2212');

const framePlugin = {
  id: 'frame',
  afterDraw(chart, args, opts) {
    const a = chart.chartArea, ctx = chart.ctx;
    ctx.save();
    ctx.strokeStyle = opts.color || '#000';
    ctx.lineWidth = opts.width || 1.6;
    ctx.strokeRect(a.left, a.top, a.right - a.left, a.bottom - a.top);
    ctx.restore();
  }
};

const colLeft = [290, 909, 1528];
const rowTop = [190, 869, 1548];

solarDays.forEach((day, i) => {
  const canvas = document.createElement('canvas');
  canvas.width = 626;
  canvas.height = 665;
  canvas.style.left = (colLeft[i % 3] - 110) + 'px';
  canvas.style.top = (rowTop[Math.floor(i / 3)] - 60) + 'px';
  document.body.appendChild(canvas);

  const datasets = contourSets[i].map(([band, pts, tension]) => {
    const data = pts.map(p => ({ x: p[0], y: p[1] }));
    data.push({ x: pts[0][0], y: pts[0][1] });
    const col = bandColor(band);
    return {
      data,
      backgroundColor: col,
      borderColor: col,
      borderWidth: 1,
      fill: 'shape',
      pointRadius: 0,
      tension: tension === undefined ? 0.3 : tension,
      order: 20 - Math.abs(band)
    };
  });
  // sub-stellar meridian
  datasets.push({
    data: [{ x: 0, y: -90 }, { x: 0, y: 90 }],
    borderColor: '#ff0000',
    borderWidth: 3,
    borderDash: [11, 5],
    fill: false,
    pointRadius: 0,
    tension: 0,
    order: -1
  });

  new Chart(canvas, {
    type: 'line',
    data: { datasets },
    options: {
      responsive: false,
      animation: false,
      devicePixelRatio: 1,
      events: [],
      layout: { padding: { left: 0, right: 40, top: 0, bottom: 0 } },
      plugins: {
        legend: { display: false },
        tooltip: { enabled: false },
        title: {
          display: true,
          text: 'Solar Day = ' + day,
          fullSize: false,
          color: '#000',
          font: { size: 38, weight: 'bold' },
          padding: { top: 13.5, bottom: 1 }
        },
        frame: { color: '#000', width: 1.6 }
      },
      scales: {
        x: {
          type: 'linear', min: -180, max: 180,
          afterBuildTicks: s => { s.ticks = latTicks.map(v => ({ value: v })); },
          afterFit: s => { s.height = 60; },
          ticks: { font: { size: 39 }, color: '#000', padding: 2, maxRotation: 0, autoSkip: false, callback: fmt },
          grid: { drawOnChartArea: false, drawTicks: true, tickLength: 8, color: '#000', lineWidth: 1.6 },
          border: { display: false }
        },
        y: {
          type: 'linear', min: -90, max: 90,
          afterBuildTicks: s => { s.ticks = lonTicks.map(v => ({ value: v })); },
          afterFit: s => { s.width = 110; },
          ticks: { font: { size: 39 }, color: '#000', padding: 8, autoSkip: false, callback: fmt },
          grid: { drawOnChartArea: false, drawTicks: true, tickLength: 8, color: '#000', lineWidth: 1.6 },
          border: { display: false }
        }
      }
    },
    plugins: [framePlugin]
  });
});

// ---------- colour bar ----------
const cbCanvas = document.createElement('canvas');
cbCanvas.width = 244;
cbCanvas.height = 1700;
cbCanvas.style.left = '2040px';
cbCanvas.style.top = '300px';
document.body.appendChild(cbCanvas);

const cbDatasets = [];
for (let k = 0; k < cbarLevels.length - 1; k++) {
  const lo = cbarLevels[k], hi = cbarLevels[k + 1];
  const band = Math.trunc((lo + hi) / 2 / 50);
  cbDatasets.push({
    data: [[lo, hi]],
    backgroundColor: band === 0 ? '#ffffff' : bandColor(band),
    borderWidth: 0,
    barPercentage: 1,
    categoryPercentage: 1,
    grouped: false
  });
}

new Chart(cbCanvas, {
  type: 'bar',
  data: { labels: ['P'], datasets: cbDatasets },
  options: {
    responsive: false,
    animation: false,
    devicePixelRatio: 1,
    events: [],
    layout: { padding: { left: 40, top: 73, bottom: 47, right: 0 } },
    plugins: { legend: { display: false }, tooltip: { enabled: false }, frame: { color: '#333', width: 1.6 } },
    scales: {
      x: { display: false },
      y: {
        position: 'right', min: -500, max: 500,
        afterBuildTicks: s => { s.ticks = cbarTicks.map(v => ({ value: v })); },
        afterFit: s => { s.width = 153; },
        ticks: { font: { size: 47 }, color: '#000', padding: 7, autoSkip: false, callback: fmt },
        grid: { drawOnChartArea: false, drawTicks: true, tickLength: 9, color: '#000', lineWidth: 1.6 },
        border: { display: false }
      }
    }
  },
  plugins: [framePlugin]
});
</script>
</body>
</html>
